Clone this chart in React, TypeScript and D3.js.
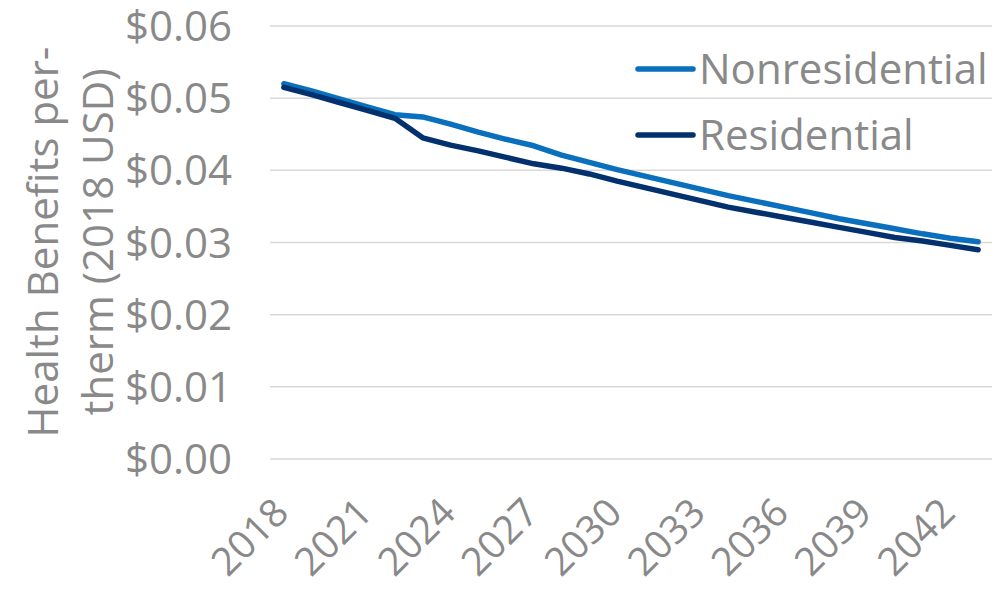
import React from "react";
import * as d3 from "d3";

const years = d3.range(2018, 2044).map(String);
const tickYears = ["2018", "2021", "2024", "2027", "2030", "2033", "2036", "2039", "2042"];

const nonresidential = [
  0.052, 0.051, 0.0499, 0.0488, 0.0477, 0.0474, 0.0464, 0.0453, 0.0443, 0.0434,
  0.0421, 0.0411, 0.0401, 0.0392, 0.0383, 0.0374, 0.0365, 0.0357, 0.0349, 0.0341,
  0.0333, 0.0326, 0.0319, 0.0312, 0.0306, 0.0301,
];
const residential = [
  0.0515, 0.0505, 0.0494, 0.0483, 0.0472, 0.0445, 0.0435, 0.0427, 0.0418, 0.0409,
  0.0403, 0.0395, 0.0385, 0.0376, 0.0367, 0.0358, 0.0349, 0.0342, 0.0335, 0.0328,
  0.0321, 0.0314, 0.0307, 0.0302, 0.0296, 0.029,
];
const yTicks = [0, 0.01, 0.02, 0.03, 0.04, 0.05, 0.06];

const series = [
  { name: "Nonresidential", values: nonresidential, color: "#0a6fbd" },
  { name: "Residential", values: residential, color: "#03316e" },
];

const width = 1007;
const height = 589;
const plot = { left: 270, right: 992, top: 26, bottom: 459 };
const textColor = "#898989";
const font = "'Open Sans', sans-serif";

export default function App() {
  const x = d3.scalePoint<string>().domain(years).range([plot.left, plot.right]).padding(0.5);
  const y = d3.scaleLinear().domain([0, 0.06]).range([plot.bottom, plot.top]);
  const line = d3
    .line<number>()
    .x((_, i) => x(years[i]) as number)
    .y((d) => y(d));

  return (
    <svg
      width={width}
      height={height}
      style={{ position: "absolute", left: 0, top: 0, background: "#fff" }}
      fontFamily={font}
    >
      {/* gridlines + y labels */}
      {yTicks.map((t) => (
        <g key={t}>
          <line x1={plot.left} x2={plot.right} y1={y(t)} y2={y(t)} stroke="#d9d9d9" strokeWidth={1.5} />
          <text x={232} y={y(t) + 15} textAnchor="end" fontSize={42} fill={textColor}>
            {d3.format("$.2f")(t)}
          </text>
        </g>
      ))}

      {/* x labels */}
      {tickYears.map((yr) => (
        <text
          key={yr}
          transform={`translate(${(x(yr) as number) + 7},515) rotate(-45)`}
          textAnchor="end"
          fontSize={39}
          fill={textColor}
        >
          {yr}
        </text>
      ))}

      {/* y axis title */}
      <text transform="translate(58,242) rotate(-90)" textAnchor="middle" fontSize={42} fill={textColor}>
        Health Benefits per-
      </text>
      <text transform="translate(113,242) rotate(-90)" textAnchor="middle" fontSize={42} fill={textColor}>
        therm (2018 USD)
      </text>

      {/* lines */}
      {series.map((s) => (
        <path
          key={s.name}
          d={line(s.values) ?? ""}
          fill="none"
          stroke={s.color}
          strokeWidth={5.5}
          strokeLinecap="round"
          strokeLinejoin="round"
        />
      ))}

      {/* legend */}
      {series.map((s, i) => (
        <g key={s.name} transform={`translate(638,${69 + i * 66})`}>
          <line x1={0} x2={55} y1={0} y2={0} stroke={s.color} strokeWidth={5.5} strokeLinecap="round" />
          <text x={61} y={15} fontSize={42} fill={textColor}>
            {s.name}
          </text>
        </g>
      ))}
    </svg>
  );
}
